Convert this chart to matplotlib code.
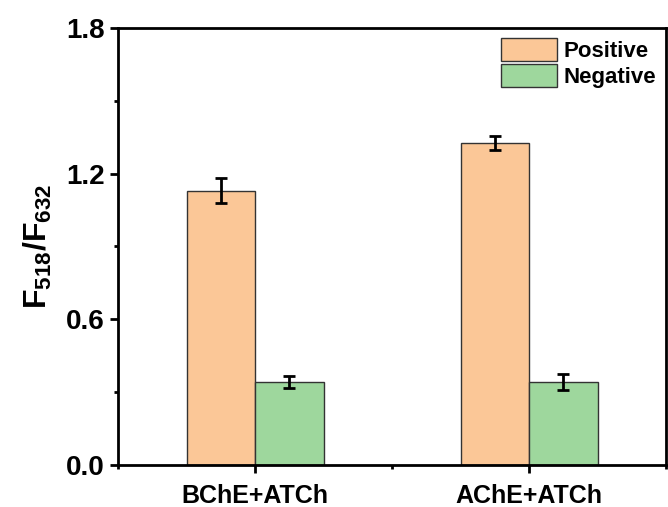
import numpy as np
import matplotlib
matplotlib.use("Agg")
import matplotlib.pyplot as plt
from matplotlib.ticker import MultipleLocator

groups = ["BChE+ATCh", "AChE+ATCh"]
positive = [1.13, 1.325]
positive_err = [0.05, 0.03]
negative = [0.34, 0.343]
negative_err = [0.025, 0.033]

plt.rcParams["font.family"] = ["Liberation Sans", "DejaVu Sans"]
plt.rcParams["font.weight"] = "bold"
plt.rcParams["mathtext.fontset"] = "custom"
plt.rcParams["mathtext.rm"] = "Liberation Sans"
plt.rcParams["mathtext.bf"] = "Liberation Sans:bold"

fig, ax = plt.subplots(figsize=(6.68, 5.07), dpi=100)
fig.subplots_adjust(left=0.177, right=0.997, top=0.945, bottom=0.083)

x = np.arange(1, len(groups) + 1)
w = 0.25
ekw = dict(elinewidth=2, capthick=2, capsize=4, ecolor="black")
ax.bar(x - w / 2, positive, w, yerr=positive_err, color="#fbc797", edgecolor="#333333",
       lw=1, label="Positive", error_kw=ekw)
ax.bar(x + w / 2, negative, w, yerr=negative_err, color="#9ed79d", edgecolor="#333333",
       lw=1, label="Negative", error_kw=ekw)

ax.set_xlim(0.5, 2.5)
ax.set_ylim(0, 1.8)
ax.set_xticks(x)
ax.set_xticklabels(groups)
ax.xaxis.set_minor_locator(MultipleLocator(0.5))
ax.set_yticks([0, 0.6, 1.2, 1.8])
ax.yaxis.set_minor_locator(MultipleLocator(0.3))
ax.tick_params(axis="y", which="major", labelsize=20, width=2, length=6)
ax.tick_params(axis="x", which="major", labelsize=18, width=2, length=6, pad=8)
ax.tick_params(which="minor", width=2, length=3)
for s in ax.spines.values():
    s.set_linewidth(2)
ax.set_ylabel(r"$\mathbf{F}_{\mathrm{518}}\mathbf{/F}_{\mathrm{632}}$", fontsize=23, labelpad=9)

ax.legend(loc="upper right", frameon=False, fontsize=16, handlelength=2.5, handleheight=1.2,
          borderaxespad=0.05, handletextpad=0.3, labelspacing=0.1)

fig.savefig("out.png", dpi=100)
